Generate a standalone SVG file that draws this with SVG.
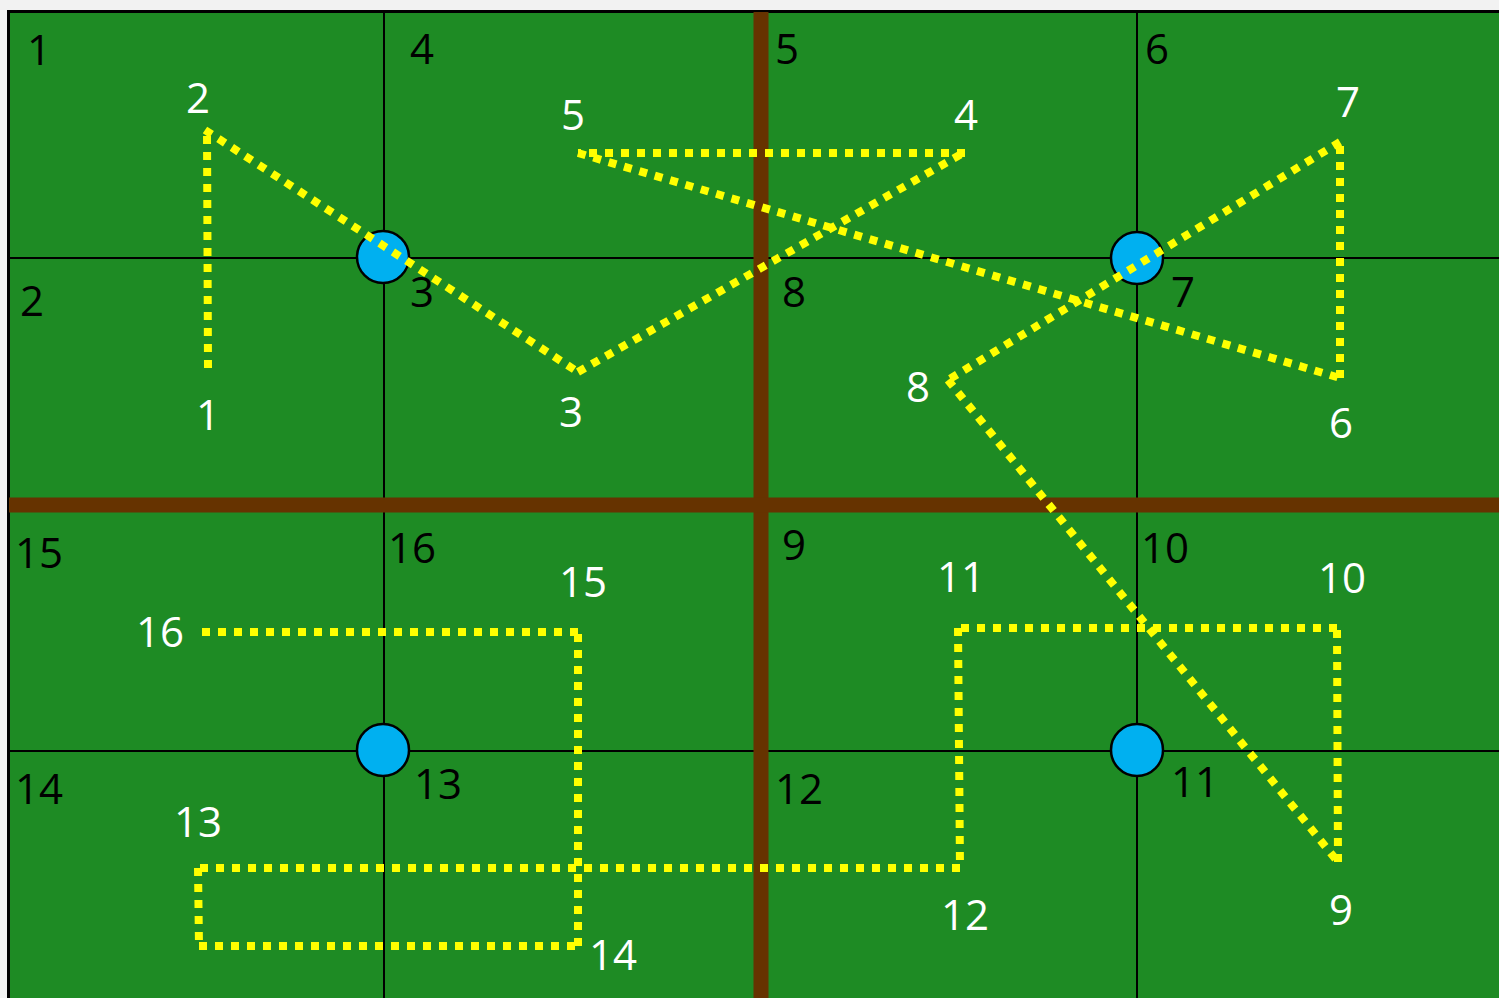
<svg xmlns="http://www.w3.org/2000/svg" width="1499" height="998" viewBox="0 0 1499 998">
<style>
.grid{stroke:#000;stroke-width:2}
.wall{stroke:#663300;stroke-width:15}
.node{fill:#00b0f0;stroke:#000;stroke-width:2.5}
.route line{stroke:#ffff00;stroke-width:8;stroke-dasharray:8 8;fill:none}
text{font-family:"Open Sans","Liberation Sans",sans-serif;font-size:42px;text-anchor:middle}
.cell{fill:#000}
.wp{fill:#fff}
</style>
<rect x="0" y="0" width="1499" height="998" fill="#f2f2f2"/>
<rect id="field" x="8.5" y="11.5" width="1500" height="1000" fill="#1e8b24" stroke="#000" stroke-width="3"/>
<g id="gridlines">
<line class="grid" x1="384" y1="12" x2="384" y2="998"/>
<line class="grid" x1="1137" y1="12" x2="1137" y2="998"/>
<line class="grid" x1="9" y1="258" x2="1499" y2="258"/>
<line class="grid" x1="9" y1="751" x2="1499" y2="751"/>
<line class="wall" x1="761" y1="12" x2="761" y2="998"/>
<line class="wall" x1="9" y1="505" x2="1499" y2="505"/>
</g>
<g id="cell-labels">
<text class="cell" x="39" y="65">1</text>
<text class="cell" x="422" y="64">4</text>
<text class="cell" x="787" y="64">5</text>
<text class="cell" x="1157" y="64">6</text>
<text class="cell" x="32" y="316">2</text>
<text class="cell" x="422" y="307">3</text>
<text class="cell" x="794" y="307">8</text>
<text class="cell" x="1183" y="307">7</text>
<text class="cell" x="39" y="568">15</text>
<text class="cell" x="412" y="563">16</text>
<text class="cell" x="794" y="560">9</text>
<text class="cell" x="1165" y="563">10</text>
<text class="cell" x="39" y="804">14</text>
<text class="cell" x="438" y="799">13</text>
<text class="cell" x="799" y="804">12</text>
<text class="cell" x="1195" y="797">11</text>
</g>
<g id="node-a"><circle class="node" cx="383" cy="257" r="26"/></g>
<g id="node-b"><circle class="node" cx="1137" cy="258" r="26"/></g>
<g id="node-c"><circle class="node" cx="383" cy="750" r="26"/></g>
<g id="node-d"><circle class="node" cx="1137" cy="750" r="26"/></g>
<g id="connectors" class="route">
<line x1="208" y1="368" x2="207" y2="130"/>
<line x1="205" y1="130" x2="578" y2="372"/>
<line x1="578" y1="372" x2="965" y2="152"/>
<line x1="965" y1="153" x2="578" y2="153"/>
<line x1="578" y1="153" x2="1340" y2="378"/>
<line x1="1340" y1="378" x2="1340" y2="142"/>
<line x1="1340" y1="142" x2="948" y2="380"/>
<line x1="948" y1="380" x2="1338" y2="862"/>
<line x1="1338" y1="862" x2="1337" y2="628"/>
<line x1="1337" y1="628" x2="958" y2="628"/>
<line x1="958" y1="628" x2="960" y2="868"/>
<line x1="960" y1="868" x2="198" y2="868"/>
<line x1="198" y1="868" x2="199" y2="946"/>
<line x1="199" y1="946" x2="578" y2="946"/>
<line x1="578" y1="946" x2="578" y2="632"/>
<line x1="578" y1="632" x2="198" y2="632"/>
</g>
<g id="waypoint-labels">
<text class="wp" x="208" y="430">1</text>
<text class="wp" x="198" y="113">2</text>
<text class="wp" x="571" y="427">3</text>
<text class="wp" x="966" y="130">4</text>
<text class="wp" x="573" y="130">5</text>
<text class="wp" x="1341" y="438">6</text>
<text class="wp" x="1348" y="117">7</text>
<text class="wp" x="918" y="402">8</text>
<text class="wp" x="1341" y="925">9</text>
<text class="wp" x="1342" y="593">10</text>
<text class="wp" x="961" y="592">11</text>
<text class="wp" x="965" y="930">12</text>
<text class="wp" x="198" y="837">13</text>
<text class="wp" x="613" y="970">14</text>
<text class="wp" x="583" y="597">15</text>
<text class="wp" x="160" y="647">16</text>
</g>
</svg>
